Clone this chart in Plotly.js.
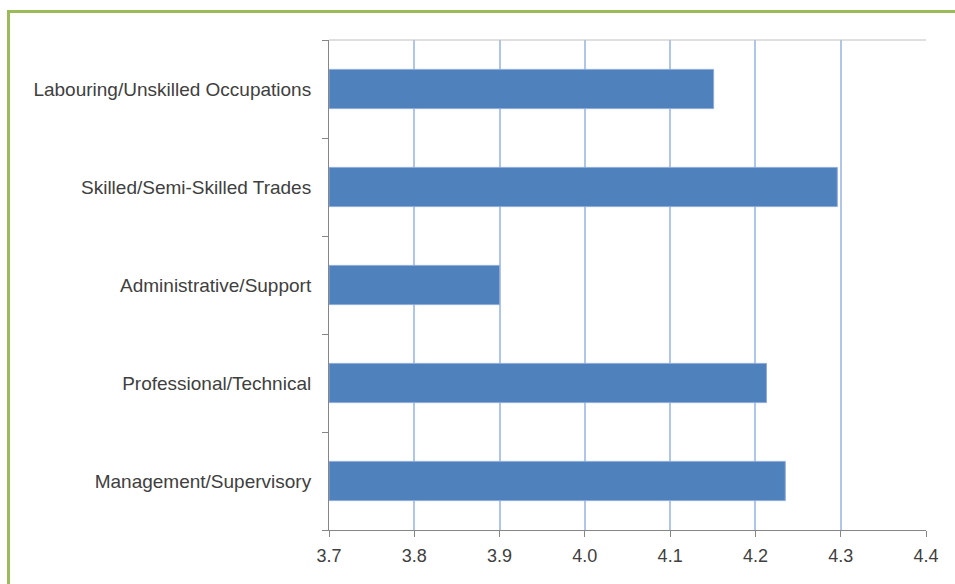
<!DOCTYPE html>
<html>
<head>
<meta charset="utf-8">
<script src="https://cdn.plot.ly/plotly-3.0.1.min.js"></script>
<style>
  html, body { margin: 0; padding: 0; background: #ffffff; overflow: hidden; }
  #wrap { position: relative; width: 955px; height: 584px; }
  #chart { position: absolute; left: 0; top: 0; width: 955px; height: 584px; }
  #frame { position: absolute; left: 7px; top: 10px; width: 1000px; height: 700px;
           border: 3px solid #9BBB59; box-sizing: border-box; pointer-events: none; }
</style>
</head>
<body>
<div id="wrap">
  <div id="chart"></div>
  <div id="frame"></div>
</div>
<script>
const categories = [
  "Management/Supervisory",
  "Professional/Technical",
  "Administrative/Support",
  "Skilled/Semi-Skilled Trades",
  "Labouring/Unskilled Occupations"
];
const values = [4.235, 4.213, 3.90, 4.296, 4.151];
const xTicks = [3.7, 3.8, 3.9, 4.0, 4.1, 4.2, 4.3, 4.4];
const xTickLabels = ["3.7", "3.8", "3.9", "4.0", "4.1", "4.2", "4.3", "4.4"];
const axisMin = 3.7;

const trace = {
  type: "bar",
  orientation: "h",
  y: categories,
  x: values.map(v => v - axisMin),
  base: axisMin,
  width: 0.4,
  marker: { color: "#4F81BD", line: { color: "#8EAADB", width: 1 } },
  hoverinfo: "none"
};

const layout = {
  width: 955,
  height: 584,
  margin: { l: 329, r: 29, t: 40, b: 54 },
  paper_bgcolor: "#ffffff",
  plot_bgcolor: "#ffffff",
  showlegend: false,
  font: { family: "Liberation Sans, Arial, sans-serif", color: "#404040", size: 19 },
  xaxis: {
    range: [3.7, 4.4],
    tickvals: xTicks,
    ticktext: xTickLabels,
    showgrid: true,
    gridcolor: "#AFC5EA",
    gridwidth: 2,
    zeroline: false,
    showline: true,
    linecolor: "#868686",
    linewidth: 1,
    ticks: "outside",
    ticklen: 6,
    tickcolor: "#868686",
    ticklabelstandoff: 3,
    tickfont: { size: 18, color: "#404040" },
    fixedrange: true
  },
  yaxis: {
    type: "category",
    categoryorder: "array",
    categoryarray: categories,
    range: [-0.5, 4.5],
    showgrid: false,
    zeroline: false,
    showline: true,
    linecolor: "#868686",
    linewidth: 1,
    ticks: "outside",
    tickson: "boundaries",
    ticklen: 6,
    tickcolor: "#868686",
    ticklabelstandoff: 13,
    tickfont: { size: 19, color: "#404040" },
    fixedrange: true
  },
  shapes: [
    { type: "line", xref: "paper", yref: "paper", x0: 0, x1: 1, y0: 1, y1: 1,
      line: { color: "#C0C0C0", width: 1 }, layer: "above" }
  ]
};

Plotly.newPlot("chart", [trace], layout, { displayModeBar: false, staticPlot: true });
</script>
</body>
</html>
